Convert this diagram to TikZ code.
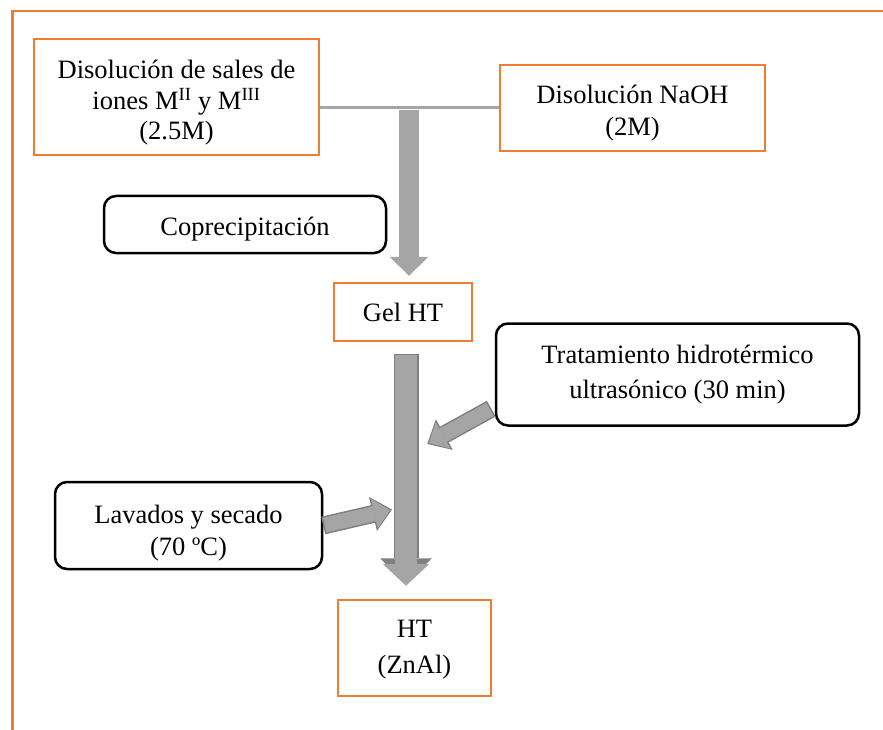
\documentclass[tikz,border=0pt]{standalone}
\usepackage{fontspec}
\setmainfont{Liberation Serif}
\usetikzlibrary{arrows.meta,calc}

\definecolor{naranja}{HTML}{ED7D31}
\definecolor{gris}{HTML}{A5A5A5}
\definecolor{grisborde}{HTML}{7F7F7F}

% puntal para bajar un poco el texto dentro de la caja
\newcommand{\bajar}[1]{\rule{0pt}{#1}}

\begin{document}
\begin{tikzpicture}[x=1pt,y=-1pt,
  font=\fontsize{26.5}{33}\selectfont,
  caja/.style={draw=naranja,line width=2.5pt,align=center,inner sep=0pt},
  paso/.style={draw=black,line width=2.5pt,rounded corners=12pt,align=center,inner sep=0pt},
  flechagrande/.style={gris,line width=20pt,-{Triangle[width=39pt,length=19pt,line width=0pt]}},
  flecha/.style={gris,line width=22pt,-{Triangle[width=47pt,length=22pt,line width=0pt]}},
  flechaborde/.style={grisborde,line width=25pt,-{Triangle[width=52pt,length=25.5pt,line width=0pt]}},
  flechita/.style={gris,line width=15pt,-{Triangle[width=30pt,length=16pt,line width=0pt]}},
  flechitaborde/.style={grisborde,line width=18pt,-{Triangle[width=35pt,length=19.5pt,line width=0pt]}}]

  \useasboundingbox (0,0) rectangle (883,730);

  % marco
  \draw[naranja,line width=2.5pt] (12.5,730) -- (12.5,11) -- (883,11);

  \node[caja,minimum width=285pt,minimum height=116pt,font=\fontsize{26.5}{30.5}\selectfont]
    (sales) at (176.5,97) {\bajar{30pt}Disolución de sales de\\iones M\textsuperscript{II} y M\textsuperscript{III}\\(2.5M)};
  \node[caja,minimum width=265pt,minimum height=86pt,font=\fontsize{26.5}{32}\selectfont]
    (naoh) at (632.5,108) {\bajar{28pt}Disolución NaOH\\(2M)};
  \node[paso,minimum width=282pt,minimum height=57pt] (copre) at (245,224.5) {\bajar{27pt}Coprecipitación};
  \node[caja,minimum width=138pt,minimum height=58pt] (gel) at (403,312) {Gel HT};
  \node[paso,minimum width=363pt,minimum height=102pt,font=\fontsize{26.5}{35}\selectfont]
    (trat) at (677.5,374.5) {Tratamiento hidrotérmico\\ultrasónico (30 min)};
  \node[paso,minimum width=267pt,minimum height=87pt,font=\fontsize{26.5}{32}\selectfont]
    (lav) at (188.5,525.5) {\bajar{34pt}Lavados y secado\\(70 ºC)};
  \node[caja,minimum width=153pt,minimum height=96pt,font=\fontsize{26.5}{36}\selectfont]
    (ht) at (414.5,648) {\bajar{21.5pt}HT\\(ZnAl)};

  \coordinate (mezcla) at (409,110);
  \coordinate (p3) at (429,443);
  \coordinate (p4) at (390,510);

  % mezcla de disoluciones
  \draw[gris,line width=3pt] (naoh.west) -- (naoh.west -| sales.east);
  \draw[flechagrande] (mezcla) -- ([xshift=6pt,yshift=6pt]gel.north);

  % gel -> HT
  \draw[flechaborde] ([xshift=3pt,yshift=-11.5pt]gel.south) -- ([xshift=-8.5pt,yshift=15pt]ht.north);
  \draw[flecha] ([xshift=3pt,yshift=-13pt]gel.south) -- ([xshift=-8.5pt,yshift=13pt]ht.north);

  % tratamiento y lavado
  \draw[flechitaborde] ($(trat.190)!4pt!(p3)$) -- ($(p3)!-2pt!(trat.190)$);
  \draw[flechita] ($(trat.190)!5.5pt!(p3)$) -- (p3);
  \draw[flechitaborde] (lav.east) -- ($(p4)!-2pt!(lav.east)$);
  \draw[flechita] ($(lav.east)!1.5pt!(p4)$) -- (p4);

\end{tikzpicture}
\end{document}
